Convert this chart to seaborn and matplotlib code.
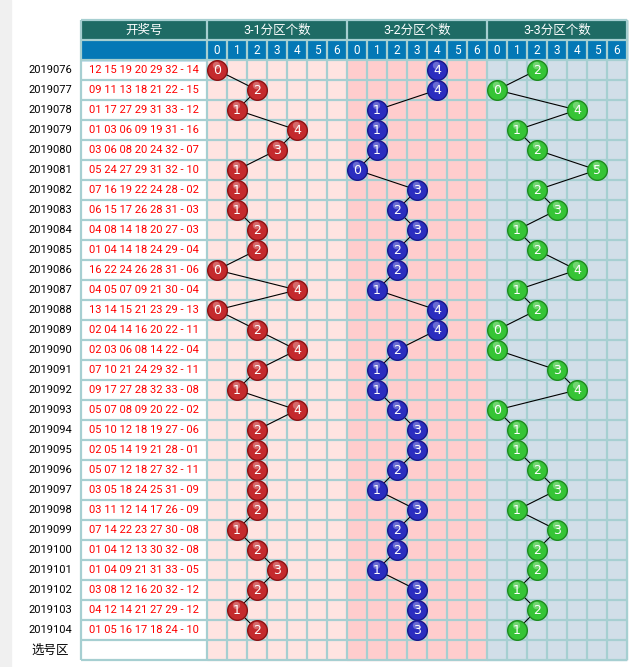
import matplotlib
matplotlib.use('Agg')
import numpy as np
import pandas as pd
import matplotlib.pyplot as plt
import seaborn as sns
from matplotlib.patches import Rectangle

# periods and draws
periods = ['2019076', '2019077', '2019078', '2019079', '2019080', '2019081',
           '2019082', '2019083', '2019084', '2019085', '2019086', '2019087',
           '2019088', '2019089', '2019090', '2019091', '2019092', '2019093',
           '2019094', '2019095', '2019096', '2019097', '2019098', '2019099',
           '2019100', '2019101', '2019102', '2019103', '2019104']
draws = ['12 15 19 20 29 32 - 14', '09 11 13 18 21 22 - 15', '01 17 27 29 31 33 - 12',
         '01 03 06 09 19 31 - 16', '03 06 08 20 24 32 - 07', '05 24 27 29 31 32 - 10',
         '07 16 19 22 24 28 - 02', '06 15 17 26 28 31 - 03', '04 08 14 18 20 27 - 03',
         '01 04 14 18 24 29 - 04', '16 22 24 26 28 31 - 06', '04 05 07 09 21 30 - 04',
         '13 14 15 21 23 29 - 13', '02 04 14 16 20 22 - 11', '02 03 06 08 14 22 - 04',
         '07 10 21 24 29 32 - 11', '09 17 27 28 32 33 - 08', '05 07 08 09 20 22 - 02',
         '05 10 12 18 19 27 - 06', '02 05 14 19 21 28 - 01', '05 07 12 18 27 32 - 11',
         '03 05 18 24 25 31 - 09', '03 11 12 14 17 26 - 09', '07 14 22 23 27 30 - 08',
         '01 04 12 13 30 32 - 08', '01 04 09 21 31 33 - 05', '03 08 12 16 20 32 - 12',
         '04 12 14 21 27 29 - 12', '01 05 16 17 18 24 - 10']

# count of red balls falling in each third of 1-33
zone1 = [0, 2, 1, 4, 3, 1, 1, 1, 2, 2, 0, 4, 0, 2, 4, 2, 1, 4, 2, 2, 2, 2, 2, 1, 2, 3, 2, 1, 2]
zone2 = [4, 4, 1, 1, 1, 0, 3, 2, 3, 2, 2, 1, 4, 4, 2, 1, 1, 2, 3, 3, 2, 1, 3, 2, 2, 1, 3, 3, 3]
zone3 = [2, 0, 4, 1, 2, 5, 2, 3, 1, 2, 4, 1, 2, 0, 0, 3, 4, 0, 1, 1, 2, 3, 1, 3, 2, 2, 1, 2, 1]

zone_titles = ['3-1分区个数', '3-2分区个数', '3-3分区个数']
digits = ['0', '1', '2', '3', '4', '5', '6']

# layout (pixels)
W, H = 633, 667
tab_l, draw_r = 81, 207
cw, rh = 20, 20
top, body_top = 20, 60
n_rows = len(periods) + 1
grid_r = draw_r + 21 * cw
bottom = body_top + n_rows * rh

zone_bg = ['#FFE4E1', '#FFCDCD', '#D1DEE8']
ball_col = ['#C42A2D', '#2B2DBF', '#36C436']
ball_edge = ['#8A1214', '#17178A', '#1E8A1E']
line_col = '#A6CFD1'

sns.set_style('white')
plt.rcParams['font.family'] = ['Roboto', 'Noto Sans CJK SC', 'DejaVu Sans']

fig = plt.figure(figsize=(W / 100, H / 100), dpi=100)
ax = fig.add_axes([0, 0, 1, 1])

# backgrounds
ax.add_patch(Rectangle((0, 0), 11, H, color='#F0F0F0', zorder=0))
ax.add_patch(Rectangle((tab_l, top), grid_r - tab_l, 20, color='#1E6B65', zorder=0))
ax.add_patch(Rectangle((tab_l, top + 20), grid_r - tab_l, 20, color='#0478B6', zorder=0))
for z in range(3):
    ax.add_patch(Rectangle((draw_r + 7 * z * cw, body_top), 7 * cw, n_rows * rh,
                           color=zone_bg[z], zorder=0))

# grid lines
lw = 1.6
ax.hlines([top + 20 * k for k in range(n_rows + 3)], tab_l, grid_r, color=line_col, lw=lw, zorder=1)
major = [tab_l, draw_r] + [draw_r + 7 * z * cw for z in range(1, 4)]
ax.vlines(major, top, bottom, color=line_col, lw=lw, zorder=1)
minor = [draw_r + k * cw for k in range(1, 21) if k % 7]
ax.vlines(minor, top + 20, bottom, color=line_col, lw=lw, zorder=1)

# header text
ax.text((tab_l + draw_r) / 2, top + 10, '开奖号', color='white', fontsize=9, ha='center', va='center')
for z, t in enumerate(zone_titles):
    x0 = draw_r + 7 * z * cw
    ax.text(x0 + 3.5 * cw, top + 10, t, color='white', fontsize=9, ha='center', va='center')
    for k, d in enumerate(digits):
        ax.text(x0 + (k + 0.5) * cw, top + 30, d, color='white', fontsize=8.5, ha='center', va='center')

# row labels and draws
for i, (p, d) in enumerate(zip(periods, draws)):
    y = body_top + (i + 0.5) * rh
    ax.text(72, y, p, color='black', fontsize=8, ha='right', va='center')
    ax.text((tab_l + draw_r) / 2, y, d, color='#FF0000', fontsize=8, ha='center', va='center')
ax.text(50, bottom - 10, '选号区', color='black', fontsize=9, ha='center', va='center')

# balls
rows = []
for z, vals in enumerate([zone1, zone2, zone3]):
    for i, v in enumerate(vals):
        rows.append({'zone': z, 'row': i, 'value': v,
                     'x': draw_r + (7 * z + v + 0.5) * cw,
                     'y': body_top + (i + 0.5) * rh})
df = pd.DataFrame(rows)

sns.lineplot(data=df, x='x', y='y', units='zone', estimator=None, sort=False,
             color='black', lw=0.8, ax=ax, zorder=2)
for z in range(3):
    sub = df[df['zone'] == z]
    sns.scatterplot(data=sub, x='x', y='y', s=200, color=ball_col[z], edgecolor=ball_edge[z],
                    linewidth=1.0, ax=ax, zorder=3, legend=False)
    sns.scatterplot(x=sub['x'] - 1, y=sub['y'] - 5, s=28, color='white', alpha=0.3,
                    linewidth=0, ax=ax, zorder=4, legend=False)
for x, y, v in zip(df['x'], df['y'], df['value']):
    ax.text(x, y + 0.5, str(int(v)), color='white', fontsize=9, family='DejaVu Sans',
            ha='center', va='center', zorder=5)

ax.set_xlim(0, W)
ax.set_ylim(H, 0)
ax.axis('off')
fig.savefig('out.png', dpi=100)
